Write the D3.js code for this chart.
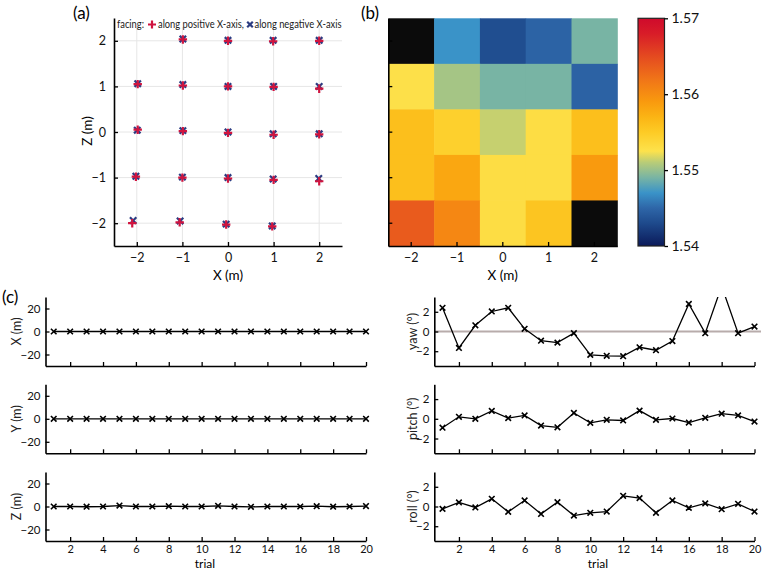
<!DOCTYPE html>
<html><head><meta charset="utf-8">
<script src="https://cdn.jsdelivr.net/npm/d3@7"></script>
<style>
body{margin:0;background:#fff}
svg{display:block;font-family:Lato,"Open Sans",sans-serif}
</style>
</head><body>
<svg id="chart" width="766" height="571"></svg>
<script>
// ---------------- DATA ----------------
const gridX = [-2, -1, 0, 1, 2];
const gridZ = [2, 1, 0, -1, -2];

// panel (a): measured positions [x, z], facing +X (red plus)
const posFacing = [
  [-0.99, 2.03], [0, 2.0], [0.99, 1.99], [2, 2.0],
  [-1.98, 1.05], [-0.99, 1.02], [0, 1.0], [1, 0.99], [2, 0.95],
  [-1.98, 0.05], [-0.99, 0.02], [0, -0.02], [1, -0.06], [2, -0.05],
  [-2.02, -0.98], [-1, -1.0], [0, -1.02], [1, -1.05], [2, -1.08],
  [-2.1, -2.0], [-1.06, -1.98], [-0.04, -2.03], [0.97, -2.07]
];
// facing -X (blue cross)
const negFacing = [
  [-0.99, 2.04], [0, 2.01], [0.99, 2.01], [2, 2.01],
  [-1.98, 1.06], [-0.99, 1.04], [0, 1.0], [1, 1.0], [2, 1.0],
  [-1.99, 0.04], [-0.99, 0.03], [0, 0.0], [0.99, -0.04], [2, -0.04],
  [-2.02, -0.97], [-1, -0.99], [0, -1.0], [0.99, -1.03], [1.99, -1.02],
  [-2.08, -1.94], [-1.05, -1.95], [-0.04, -2.02], [0.97, -2.06]
];

// panel (b): heatmap values, rows z = 2..-2, columns x = -2..2 (null = no data)
const heatValues = [
  [null, 1.5470, 1.5433, 1.5448, 1.5490],
  [1.5527, 1.5504, 1.5490, 1.5490, 1.5447],
  [1.5560, 1.5545, 1.5513, 1.5530, 1.5560],
  [1.5560, 1.5580, 1.5530, 1.5530, 1.5590],
  [1.5638, 1.5605, 1.5530, 1.5555, null]
];
const cbTicks = [1.54, 1.55, 1.56, 1.57];
const cmapStops = [1.540, 1.543, 1.545, 1.547, 1.549, 1.551, 1.5525, 1.555, 1.557, 1.559, 1.562, 1.565, 1.568, 1.570];
const cmapColors = ["#0b1a5a", "#1e4a8c", "#2e66a8", "#3a93c8", "#78b4a4", "#b8cc78", "#fde24c", "#fdcb25", "#fbb414", "#f99a0e", "#f07418", "#e44a20", "#d81c28", "#cf0a2c"];

// panel (c): per-trial estimates
const trials = [1, 2, 3, 4, 5, 6, 7, 8, 9, 10, 11, 12, 13, 14, 15, 16, 17, 18, 19, 20];
const trialTicks = [2, 4, 6, 8, 10, 12, 14, 16, 18, 20];
const estX = [0, 0, 0, 0, 0, 0, 0, 0, 0, 0, 0, 0, 0, 0, 0, 0, 0, 0, 0, 0];
const estY = [0, 0, 0, 0, 0, 0, 0, 0, 0, 0, 0, 0, 0, 0, 0, 0, 0, 0, 0, 0];
const estZ = [0, 0, -0.2, 0, 0.8, 0, 0, 0.3, 0, 0, 0.6, 0, -0.3, 0, 0, 0, 0.3, -0.2, 0, 0.4];
const yaw = [2.4, -1.67, 0.63, 2.03, 2.4, 0.27, -0.93, -1.13, -0.17, -2.37, -2.47, -2.5, -1.6, -1.9, -0.97, 2.8, -0.17, 4.6, -0.17, 0.5];
const pitch = [-0.9, 0.2, 0.0, 0.8, 0.07, 0.34, -0.69, -0.86, 0.59, -0.41, -0.1, -0.17, 0.83, -0.1, 0.03, -0.38, 0.1, 0.52, 0.34, -0.28];
const roll = [-0.24, 0.41, -0.1, 0.78, -0.54, 0.61, -0.75, 0.44, -0.92, -0.64, -0.51, 1.08, 0.85, -0.64, 0.61, -0.14, 0.31, -0.27, 0.27, -0.51];

// ---------------- DRAW ----------------
const svg = d3.select("#chart");
svg.append("rect").attr("width", 766).attr("height", 571).attr("fill", "#fff");

const RED = "#d0143f", BLUE = "#2b3c82";

function styleAxis(g, fs) {
  g.select(".domain").attr("stroke", "#000").attr("stroke-width", 1.6);
  g.selectAll(".tick line").attr("stroke", "#000").attr("stroke-width", 1.3);
  g.selectAll(".tick text").attr("fill", "#111").style("font-size", fs + "px").style("font-family", "Lato, 'Open Sans', sans-serif");
}
const minus = d => (d < 0 ? "\u2212" + Math.abs(d) : "" + d);

// Panel labels
svg.append("text").attr("x", 73).attr("y", 19).text("(a)").style("font-size", "17px");
svg.append("text").attr("x", 361).attr("y", 19).text("(b)").style("font-size", "17px");
svg.append("text").attr("x", 2).attr("y", 303).text("(c)").style("font-size", "17px");

// ---- Panel (a) ----
const ax = d3.scaleLinear().domain([-2.5, 2.5]).range([114, 342]);
const az = d3.scaleLinear().domain([-2.5, 2.5]).range([246, 18]);
const ga = svg.append("g");
// grid
ga.selectAll(".gx").data(gridX).join("line")
  .attr("x1", d => ax(d)).attr("x2", d => ax(d)).attr("y1", az(-2.5)).attr("y2", az(2.3))
  .attr("stroke", "#e6e6e6").attr("stroke-width", 1);
ga.selectAll(".gz").data(gridZ).join("line")
  .attr("y1", d => az(d)).attr("y2", d => az(d)).attr("x1", ax(-2.5)).attr("x2", ax(2.5))
  .attr("stroke", "#e6e6e6").attr("stroke-width", 1);
const axB = ga.append("g").attr("transform", `translate(0,${az(-2.5)})`)
  .call(d3.axisBottom(ax).tickValues(gridX).tickSizeInner(-4).tickSizeOuter(0).tickPadding(7).tickFormat(minus));
styleAxis(axB, 12.5);
const axL = ga.append("g").attr("transform", `translate(${ax(-2.5)},0)`)
  .call(d3.axisLeft(az).tickValues(gridZ).tickSizeInner(-4).tickSizeOuter(0).tickPadding(8).tickFormat(minus));
styleAxis(axL, 12.5);
ga.append("text").attr("x", 228).attr("y", 280).attr("text-anchor", "middle").style("font-size", "13.5px").text("X (m)");
ga.append("text").attr("transform", "translate(92,131) rotate(-90)").attr("text-anchor", "middle").style("font-size", "13.5px").text("Z (m)");

const crossPath = s => `M${-s},${-s}L${s},${s}M${-s},${s}L${s},${-s}`;
const plusPath = s => `M${-s},0L${s},0M0,${-s}L0,${s}`;
ga.selectAll(".neg").data(negFacing).join("path")
  .attr("transform", d => `translate(${ax(d[0])},${az(d[1])})`)
  .attr("d", crossPath(3.2)).attr("stroke", BLUE).attr("stroke-width", 2.2).attr("fill", "none");
ga.selectAll(".pos").data(posFacing).join("path")
  .attr("transform", d => `translate(${ax(d[0])},${az(d[1])})`)
  .attr("d", plusPath(4.2)).attr("stroke", RED).attr("stroke-width", 2.2).attr("fill", "none");

// legend
const lg = ga.append("g").style("font-size", "10.5px").attr("fill", "#222");
lg.append("text").attr("x", 117).attr("y", 28).attr("textLength", 27).attr("lengthAdjust", "spacingAndGlyphs").text("facing:");
lg.append("path").attr("transform", "translate(152,24.5)").attr("d", plusPath(4)).attr("stroke", RED).attr("stroke-width", 2.2);
lg.append("text").attr("x", 158).attr("y", 28).attr("textLength", 86).attr("lengthAdjust", "spacingAndGlyphs").text("along positive X-axis,");
lg.append("path").attr("transform", "translate(250,24.5)").attr("d", crossPath(2.8)).attr("stroke", BLUE).attr("stroke-width", 2.2);
lg.append("text").attr("x", 254.5).attr("y", 28).attr("textLength", 87).attr("lengthAdjust", "spacingAndGlyphs").text("along negative X-axis");

// ---- Panel (b) ----
const cmap = d3.scaleLinear().domain(cmapStops).range(cmapColors).interpolate(d3.interpolateRgb).clamp(true);
const bx = d3.scaleBand().domain(gridX).range([388.3, 617.3]);
const bz = d3.scaleBand().domain(gridZ).range([18.3, 246]);
const gb = svg.append("g");
const cells = [];
heatValues.forEach((row, i) => row.forEach((v, j) => cells.push({ x: gridX[j], z: gridZ[i], v })));
gb.selectAll("rect.cell").data(cells).join("rect").attr("class", "cell")
  .attr("x", d => bx(d.x)).attr("y", d => bz(d.z))
  .attr("width", bx.bandwidth() + 0.5).attr("height", bz.bandwidth() + 0.5)
  .attr("fill", d => d.v == null ? "#0b0b0b" : cmap(d.v));
const bB = gb.append("g").attr("transform", `translate(0,246)`)
  .call(d3.axisBottom(bx).tickSizeInner(-4).tickSizeOuter(0).tickPadding(7).tickFormat(minus));
styleAxis(bB, 12.5);
const bL = gb.append("g").attr("transform", `translate(388.3,0)`)
  .call(d3.axisLeft(bz).tickSizeInner(-4).tickSizeOuter(0).tickFormat(""));
styleAxis(bL, 12.5);
gb.append("text").attr("x", 502.7).attr("y", 280).attr("text-anchor", "middle").style("font-size", "13.5px").text("X (m)");

// colorbar
const cbY = d3.scaleLinear().domain([1.54, 1.57]).range([246, 18.3]);
const defs = svg.append("defs");
const grad = defs.append("linearGradient").attr("id", "cbgrad").attr("x1", 0).attr("x2", 0).attr("y1", 1).attr("y2", 0);
cmapStops.forEach((s, i) => grad.append("stop").attr("offset", (s - 1.54) / 0.03).attr("stop-color", cmapColors[i]));
gb.append("rect").attr("x", 638).attr("y", cbY(1.57)).attr("width", 26.5).attr("height", cbY(1.54) - cbY(1.57))
  .attr("fill", "url(#cbgrad)").attr("stroke", "#222").attr("stroke-width", 1.2);
const cbA = gb.append("g").attr("transform", "translate(664.5,0)")
  .call(d3.axisRight(cbY).tickValues(cbTicks).tickSize(3.5).tickPadding(3.5).tickFormat(d3.format(".2f")));
cbA.select(".domain").remove();
styleAxis(cbA, 14);

// ---- Panel (c) ----
const bottoms = [366, 453.3, 541];
const leftX = d3.scaleLinear().domain([0.5, 20]).range([45.5, 366]);
const rightX = d3.scaleLinear().domain([0.5, 20]).range([434.3, 754.5]);
const subplots = [
  { xs: leftX, vals: estX, dom: [-30, 30], ticks: [-20, 0, 20], row: 0, label: "X (m)", lx: 17 },
  { xs: leftX, vals: estY, dom: [-30, 30], ticks: [-20, 0, 20], row: 1, label: "Y (m)", lx: 17 },
  { xs: leftX, vals: estZ, dom: [-30, 30], ticks: [-20, 0, 20], row: 2, label: "Z (m)", lx: 17 },
  { xs: rightX, vals: yaw, dom: [-3.5, 3.5], ticks: [-2, 0, 2], row: 0, label: "yaw (\u00b0)", lx: 413 },
  { xs: rightX, vals: pitch, dom: [-3.5, 3.5], ticks: [-2, 0, 2], row: 1, label: "pitch (\u00b0)", lx: 413 },
  { xs: rightX, vals: roll, dom: [-3.5, 3.5], ticks: [-2, 0, 2], row: 2, label: "roll (\u00b0)", lx: 413 }
];
subplots[3].zero = true;
subplots.forEach((sp, k) => {
  const yb = bottoms[sp.row];
  const ys = d3.scaleLinear().domain(sp.dom).range([yb, yb - 69]);
  const g = svg.append("g");
  const clipId = "clip" + k;
  defs.append("clipPath").attr("id", clipId).append("rect")
    .attr("x", sp.xs.range()[0]).attr("y", yb - 69).attr("width", sp.xs.range()[1] - sp.xs.range()[0] + 6).attr("height", 69);
  if (sp.zero) {
    g.append("line").attr("x1", sp.xs.range()[0]).attr("x2", 761).attr("y1", ys(0)).attr("y2", ys(0))
      .attr("stroke", "#b8acab").attr("stroke-width", 2);
  }
  const pg = g.append("g").attr("clip-path", `url(#${clipId})`);
  const pts = trials.map((t, i) => [t, sp.vals[i]]);
  pg.append("path").datum(pts)
    .attr("d", d3.line().x(d => sp.xs(d[0])).y(d => ys(d[1])))
    .attr("fill", "none").attr("stroke", "#000").attr("stroke-width", 1.3);
  pg.selectAll(".m").data(pts).join("path")
    .attr("transform", d => `translate(${sp.xs(d[0])},${ys(d[1])})`)
    .attr("d", crossPath(2.8)).attr("stroke", "#000").attr("stroke-width", 1.6).attr("fill", "none");
  const xa = g.append("g").attr("transform", `translate(0,${yb})`)
    .call(d3.axisBottom(sp.xs).tickValues(trialTicks).tickSizeInner(-4).tickSizeOuter(0).tickPadding(4)
      .tickFormat(sp.row === 2 ? d3.format("d") : ""));
  styleAxis(xa, 11);
  const ya = g.append("g").attr("transform", `translate(${sp.xs.range()[0]},0)`)
    .call(d3.axisLeft(ys).tickValues(sp.ticks).tickSizeInner(-4).tickSizeOuter(0).tickPadding(5).tickFormat(minus));
  styleAxis(ya, 11.5);
  g.append("text").attr("transform", `translate(${sp.lx},${ys(0)}) rotate(-90)`).attr("dy", "0.35em")
    .attr("text-anchor", "middle").style("font-size", "12.5px").attr("fill", "#222").text(sp.label);
});
svg.append("text").attr("x", 205).attr("y", 567.5).attr("text-anchor", "middle").style("font-size", "12px").text("trial");
svg.append("text").attr("x", 598).attr("y", 567.5).attr("text-anchor", "middle").style("font-size", "12px").text("trial");
</script>
</body></html>
